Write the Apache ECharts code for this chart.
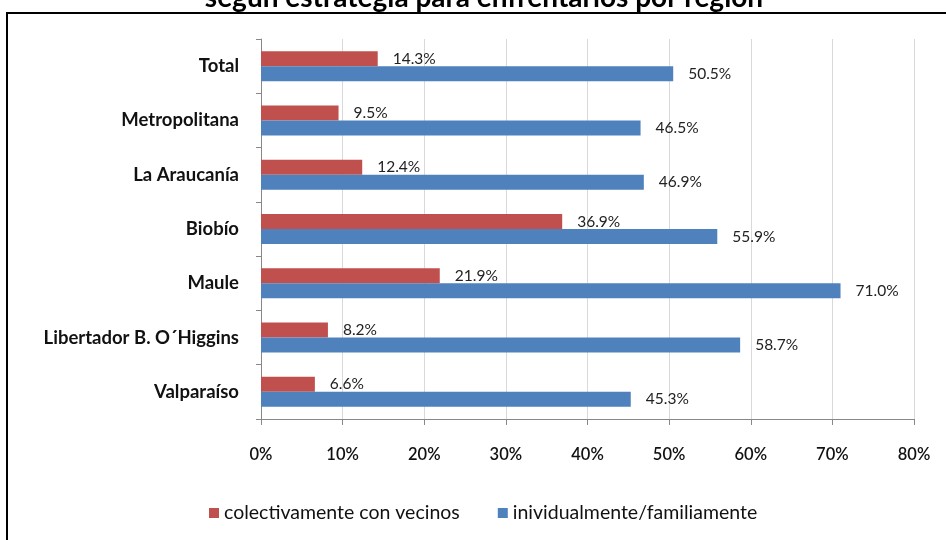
<!DOCTYPE html>
<html>
<head>
<meta charset="utf-8">
<script src="https://cdn.jsdelivr.net/npm/echarts@6/dist/echarts.min.js"></script>
<style>
  html, body { margin: 0; padding: 0; background: #fff; }
  #chart { width: 946px; height: 540px; }
</style>
</head>
<body>
<div id="chart"></div>
<script>
// regions listed bottom to top, as the axis draws them
const regions = ['Valparaíso', 'Libertador B. O´Higgins', 'Maule', 'Biobío', 'La Araucanía', 'Metropolitana', 'Total'];
const colectivo = [6.6, 8.2, 21.9, 36.9, 12.4, 9.5, 14.3];
const individual = [45.3, 58.7, 71.0, 55.9, 46.9, 46.5, 50.5];
const xTicks = [0, 10, 20, 30, 40, 50, 60, 70, 80];

const font = 'Lato, "Open Sans", sans-serif';
const chart = echarts.init(document.getElementById('chart'));

const labelStyle = {
  show: true,
  position: 'right',
  distance: 15,
  color: '#222',
  fontFamily: font,
  fontSize: 15.5,
  formatter: p => p.value.toFixed(1) + '%'
};

chart.setOption({
  animation: false,
  graphic: [
    {
      type: 'rect',
      shape: { x: 7, y: 13, width: 960, height: 560 },
      style: { fill: 'none', stroke: '#000', lineWidth: 2 }
    },
    {
      type: 'text',
      x: 484,
      y: -2,
      style: {
        text: 'según estrategia para enfrentarlos por región',
        align: 'center',
        verticalAlign: 'middle',
        fontFamily: font,
        fontSize: 28,
        fontWeight: 'bold',
        fill: '#000'
      }
    }
  ],
  grid: { left: 261, right: 32, top: 39, bottom: 121 },
  legend: {
    data: ['colectivamente con vecinos', 'inividualmente/familiamente'],
    top: 498,
    left: 204,
    itemWidth: 10,
    itemHeight: 10,
    itemGap: 38,
    icon: 'rect',
    textStyle: { fontFamily: font, fontSize: 19.5, color: '#111' }
  },
  xAxis: {
    type: 'value',
    min: xTicks[0],
    max: xTicks[xTicks.length - 1],
    interval: 10,
    axisLine: { show: true, lineStyle: { color: '#888' } },
    axisTick: { show: true, length: 6, lineStyle: { color: '#888' } },
    splitLine: { lineStyle: { color: '#d9d9d9' } },
    axisLabel: {
      margin: 27,
      color: '#111',
      fontFamily: font,
      fontSize: 16.5,
      fontWeight: 600,
      formatter: v => v + '%'
    }
  },
  yAxis: {
    type: 'category',
    data: regions,
    axisLine: { lineStyle: { color: '#888' } },
    axisTick: { show: true, length: 5, lineStyle: { color: '#888' } },
    axisLabel: {
      margin: 22,
      color: '#111',
      fontFamily: font,
      fontSize: 18.5,
      fontWeight: 'bold'
    }
  },
  series: [
    {
      name: 'colectivamente con vecinos',
      type: 'bar',
      data: colectivo,
      barWidth: 15,
      barGap: '0%',
      itemStyle: { color: '#c0504d' },
      label: labelStyle
    },
    {
      name: 'inividualmente/familiamente',
      type: 'bar',
      data: individual,
      barWidth: 15,
      barGap: '0%',
      itemStyle: { color: '#4f81bd' },
      label: labelStyle
    }
  ]
});
</script>
</body>
</html>
